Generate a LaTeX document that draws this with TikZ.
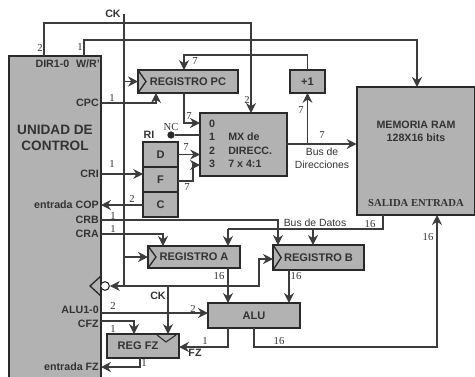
\documentclass[tikz,border=0pt]{standalone}
\usepackage{fontspec}
\setmainfont{Liberation Serif}
\setsansfont{Liberation Sans}
\usepackage{xcolor}
\usetikzlibrary{arrows.meta}
\definecolor{blockG}{HTML}{B2B2B2}
\definecolor{lineK}{HTML}{2A2A2A}
\definecolor{wireK}{HTML}{3C3C3C}
\definecolor{textK}{HTML}{333333}
\tikzset{
  blockbox/.style={draw=lineK,line width=1.3pt,fill=blockG,inner sep=0pt,outer sep=0pt,
     text=textK,font=\sffamily\bfseries\fontsize{8.3}{10}\selectfont},
  ctrllab/.style={anchor=east,inner sep=0pt,text=textK,
     font=\sffamily\bfseries\fontsize{8}{10}\selectfont},
  wirelab/.style={inner sep=0pt,text=textK,font=\rmfamily\fontsize{8}{9}\selectfont},
  buslab/.style={inner sep=0pt,text=textK,align=center,font=\sffamily\fontsize{7.8}{10}\selectfont},
  wire/.style={draw=wireK,line width=0.8pt},
  sig/.style={wire,-{Stealth[length=7.5pt,width=7.5pt]}},
}
\begin{document}
\begin{tikzpicture}[x=0.75pt,y=-0.75pt]
  \useasboundingbox (0,0) rectangle (475,376);
  \clip (0,0) rectangle (475,376);
  % blocks
  \node[blockbox,minimum width=69pt,minimum height=246pt] (ctrl) at (55,220) {};
  \node[blockbox,minimum width=75pt,minimum height=17pt] (pc) at (188,81.5) {REGISTRO PC};
  \node[blockbox,minimum width=26pt,minimum height=17pt] (inc) at (307.5,81.5) {+1};
  \node[blockbox,minimum width=65pt,minimum height=47pt] (mux) at (243.5,144.5) {};
  \node[blockbox,minimum width=89pt,minimum height=96pt] (ram) at (416,151) {};
  \node[blockbox,minimum width=26pt,minimum height=18.5pt] (rid) at (160.5,154.5) {D};
  \node[blockbox,minimum width=26pt,minimum height=18.5pt] (rif) at (160.5,179.5) {F};
  \node[blockbox,minimum width=26pt,minimum height=18.5pt] (ric) at (160.5,204.5) {C};
  \node[blockbox,minimum width=69pt,minimum height=16.5pt] (rega) at (194,257) {REGISTRO A};
  \node[blockbox,minimum width=68pt,minimum height=18.5pt] (regb) at (318.5,257.5) {REGISTRO B};
  \node[blockbox,minimum width=69pt,minimum height=18.5pt] (alu) at (254,315.5) {ALU};
  \node[blockbox,minimum width=54pt,minimum height=18pt] (regfz) at (143,346) {REG FZ\kern7.5pt};
  \foreach \r in {pc,rega,regb}{
     \draw[line width=1pt,draw=lineK] (\r.north west) -- ([xshift=6pt]\r.west) -- (\r.south west);
  }
  \draw[line width=0.8pt,draw=lineK] (157,335) -- (166,342) -- (176,335);
  % text inside blocks
  \node[inner sep=0pt,text=textK,align=center,font=\sffamily\bfseries\fontsize{10.2}{12}\selectfont]
     (ctrlname) at (55,138) {UNIDAD DE\\CONTROL};
  \node[ctrllab] (dirwr) at (100,64) {DIR1-0\hspace{5pt}W/R'};
  \foreach \n/\y/\t in {cpc/103/CPC,cri/174/CRI,ecop/205/entrada COP,crb/220/CRB,cra/234/CRA,
                        alusel/310/ALU1-0,cfz/324/CFZ,efz/367/entrada FZ}{
     \node[ctrllab] (\n) at (99,\y) {\t};
  }
  \foreach \n/\y/\t in {m0/124/0,m1/137/1,m2/151/2,m3/164/3}{
     \node[ctrllab,anchor=center] (\n) at (212,\y) {\t};
  }
  \foreach \n/\y/\t in {mt1/137/MX de,mt2/151/DIRECC.,mt3/164/7 x 4:1}{
     \node[ctrllab,anchor=west] (\n) at (228,\y) {\t};
  }
  \node[ctrllab,anchor=center] (ramname) at (416,125) {MEMORIA RAM};
  \node[ctrllab,anchor=center] (ramsize) at (416,138) {128X16 bits};
  \node[inner sep=0pt,text=textK,font=\rmfamily\bfseries\fontsize{8}{10}\selectfont] (ramport) at (416,203) {SALIDA ENTRADA};
  \node[ctrllab,anchor=center] (riname) at (149,135) {RI};
  % clock input of the control unit
  \node[circle,draw=lineK,fill=white,line width=0.8pt,inner sep=0pt,minimum size=6.5pt] (clkdot) at (105,286) {};
  \draw[line width=1pt,draw=lineK] (ctrl.east |- 0,276) -- (90,286) -- (ctrl.east |- 0,296);
  \node[circle,fill=lineK,inner sep=0pt,minimum size=5.5pt] (ncdot) at (171,135) {};
  % joints and free ends
  \foreach \n/\x/\y in {cktop/124/14,ckjoin/124/286,ckturn/259/259,regbck/273/259,fzck/168/334,
     dirout/44/56,wrout/84/56,dirtop/44/23,wrtop/84/40,muxsel/251/113,ramwr/417/87,
     pcin/184/70,pcck/156/93,pcout/184/93,mux0/200/123,mux3/200/165,rifout/178/181,
     ramout/383/215,ramin/437/215,busa/228/229,regain/228/246,regbin/313/245,
     crbin/278/245,crain/163/246,cfzin/134/334,aout/228/268,aluina/228/303,
     bout/289/270,aluinb/289/303,aluoutf/228/328,aluout/254/328,fzout/140/358,
     dirbus/324/144,aluw/101/313,cfzw/101/321}{
     \coordinate (\n) at (\x,\y);
  }
  % clock
  \draw[wire] (cktop) -- (ckjoin);
  \draw[sig] (cktop |- pc.west) -- (pc.west);
  \draw[sig] (cktop |- rega.west) -- (rega.west);
  \draw[sig] (ckjoin) -- (clkdot.east);
  \draw[sig] (ckjoin) -| (ckturn) -- (regbck);
  \draw[sig] (ckjoin -| fzck) -- (fzck);
  % control lines
  \draw[sig] (dirout) -- (dirtop) -| (muxsel);
  \draw[sig] (wrout) -- (wrtop) -| (ramwr);
  \draw[sig] (cpc -| ctrl.east) -| (pcck);
  \draw[sig] (cri -| ctrl.east) -- (cri -| rif.west);
  \draw[sig] (ecop -| ric.west) -- (ecop -| ctrl.east);
  \draw[sig] (crb -| ctrl.east) -| (crbin);
  \draw[sig] (cra -| ctrl.east) -| (crain);
  \draw[sig] (aluw) -- (aluw -| alu.west);
  \draw[sig] (cfzw) -| (cfzin);
  \draw[sig] (fzout) |- (efz -| ctrl.east);
  % address paths
  \draw[sig] (inc.north) |- (pcin |- 0,55) -- (pcin);
  \draw[sig] (pcout) |- (mux0);
  \draw[wire] (ncdot.east) -- (ncdot -| mux.west);
  \draw[sig] (rid.east) -- (rid -| mux.west);
  \draw[sig] (rifout) -- (193,181) |- (mux3);
  \draw[sig,line width=1.1pt] (mux.east |- dirbus) -- (dirbus -| ram.west);
  \draw[sig] (dirbus -| inc.south) -- (inc.south);
  % data paths
  \draw[wire] (ramout) -- (ramout |- busa) -- (busa);
  \draw[sig] (busa) -- (regain);
  \draw[sig] (regbin |- busa) -- (regbin);
  \draw[sig,line width=1.1pt] (aout) -- (aluina);
  \draw[sig,line width=1.1pt] (bout) -- (aluinb);
  \draw[sig] (aluoutf) |- (regfz.east |- 0,347);
  \draw[sig] (aluout) |- (ramin |- 0,347) -- (ramin);
  % widths
  \foreach \n/\x/\y/\t in {wa/40/48/2,wb/80/47/1,wc/247/100/2,wd/195/61/7,we/189/116/7,wf/186/147/7,
     wg/187/187/7,wh/112/98/1,wi/112/164/1,wj/132/199/2,wk/113/216/1,wl/113/229/1,wm/219/276/16,
     wn/296/276/16,wo/113/306/2,wp/193/309/2,wq/113/329/1,wr/205/341/1,ws/144/363/1,wt/279/341/16,
     wu/428/237/16,wv/370/224/16,ww/301/110/7,wx/322/135/7}{
     \node[wirelab] (\n) at (\x,\y) {\t};
  }
  \node[wirelab] (nclab) at (171,127) {NC};
  % names on lines
  \node[ctrllab,anchor=center] (cklab) at (113,14) {CK};
  \node[ctrllab,anchor=center] (cklabb) at (158,296) {CK};
  \node[ctrllab,anchor=center] (fzlab) at (195,353) {FZ};
  \node[buslab] (dirlab) at (322,158) {Bus de\\Direcciones};
  \node[buslab] (datlab) at (315,223) {Bus de Datos};
\end{tikzpicture}
\end{document}
